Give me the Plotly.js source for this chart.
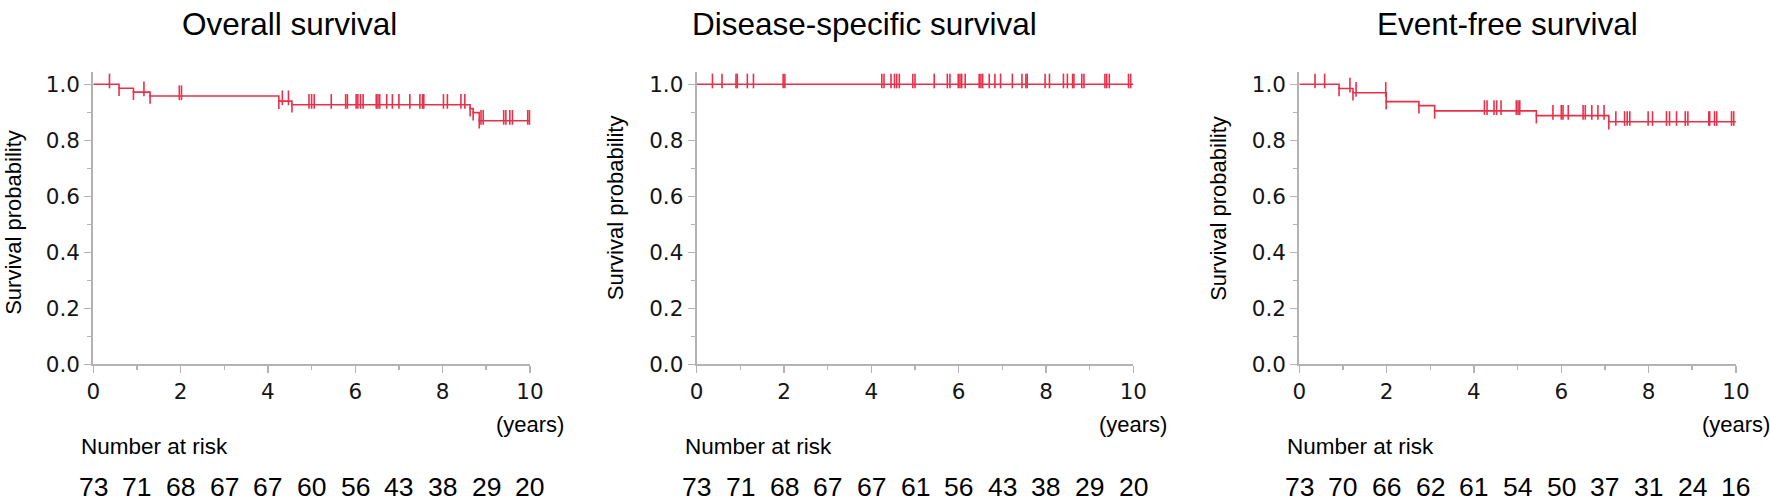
<!DOCTYPE html>
<html>
<head>
<meta charset="utf-8">
<script src="https://cdn.plot.ly/plotly-3.0.1.min.js"></script>
<style>html,body{margin:0;padding:0;background:#fff;}#chart{width:1770px;height:502px;}</style>
</head>
<body>
<div id="chart"></div>
<script>
// ---------- data ----------
const panelTitles = ["Overall survival", "Disease-specific survival", "Event-free survival"];
const riskYears = [0, 1, 2, 3, 4, 5, 6, 7, 8, 9, 10];

const osEventTimes = [0.59, 0.92, 1.30, 4.25, 4.55, 8.63, 8.70, 8.84];
const osEventSurv  = [0.986, 0.972, 0.958, 0.940, 0.927, 0.913, 0.899, 0.870];
const osCensorTimes = [0.37, 1.16, 1.97, 2.02, 4.33, 4.47, 4.94, 5.00, 5.06, 5.45, 5.78, 5.82,
  6.02, 6.06, 6.12, 6.18, 6.48, 6.52, 6.56, 6.72, 6.85, 7.00, 7.25, 7.48, 7.54, 7.57,
  8.02, 8.11, 8.42, 8.51, 8.88, 8.93, 9.40, 9.45, 9.54, 9.60, 9.95, 9.99];
const osAtRisk = [73, 71, 68, 67, 67, 60, 56, 43, 38, 29, 20];

const dssEventTimes = [];
const dssEventSurv  = [];
const dssCensorTimes = [0.36, 0.58, 0.90, 0.93, 1.16, 1.30, 1.98, 2.02, 4.24, 4.29, 4.45, 4.53,
  4.58, 4.64, 4.95, 5.00, 5.44, 5.74, 5.80, 5.99, 6.03, 6.07, 6.15, 6.47, 6.51, 6.55, 6.70,
  6.83, 6.96, 7.23, 7.45, 7.54, 7.57, 7.98, 8.08, 8.40, 8.49, 8.61, 8.64, 8.82, 8.87, 9.35,
  9.39, 9.45, 9.89, 9.94];
const dssAtRisk = [73, 71, 68, 67, 67, 61, 56, 43, 38, 29, 20];

const efsEventTimes = [0.91, 1.23, 1.99, 2.74, 3.10, 5.43, 7.09];
const efsEventSurv  = [0.985, 0.970, 0.938, 0.924, 0.905, 0.888, 0.866];
const efsCensorTimes = [0.36, 0.58, 1.16, 1.30, 1.98, 4.24, 4.30, 4.46, 4.52, 4.62, 4.97, 5.01,
  5.05, 5.81, 6.00, 6.04, 6.16, 6.50, 6.55, 6.70, 6.84, 6.98, 7.25, 7.45, 7.51, 7.57, 7.99,
  8.09, 8.41, 8.48, 8.64, 8.84, 8.90, 9.38, 9.40, 9.51, 9.56, 9.90, 9.95];
const efsAtRisk = [73, 70, 66, 62, 61, 54, 50, 37, 31, 24, 16];

const yTickVals = [0, 0.2, 0.4, 0.6, 0.8, 1.0];
const xTickVals = [0, 2, 4, 6, 8, 10];

// ---------- layout geometry (pixels) ----------
const W = 1770, H = 502;
const panelLeft = [93.3, 696.7, 1299.3];
const titleCenterPx = [289, 864, 1507];
const plotW = 436.6;
const yBotPx = 364.3, yTopPx = 71.7;
const yMax = 1.045, xMax = 10;
const pxPerUnit = (yBotPx - yTopPx) / yMax;
const red = "#e8304a";
const axisGray = "#b3b3b3";
const textCol = "#151515";

const panels = [
  {ev: osEventTimes, sv: osEventSurv, cs: osCensorTimes, risk: osAtRisk, ytitleY: 222},
  {ev: dssEventTimes, sv: dssEventSurv, cs: dssCensorTimes, risk: dssAtRisk, ytitleY: 208},
  {ev: efsEventTimes, sv: efsEventSurv, cs: efsCensorTimes, risk: efsAtRisk, ytitleY: 208}
];

function survAt(ev, sv, t) {
  let s = 1;
  for (let i = 0; i < ev.length; i++) if (ev[i] <= t) s = sv[i];
  return s;
}

const traces = [];
const annotations = [];
const layout = {
  width: W, height: H,
  margin: {l: 0, r: 0, t: 0, b: 0},
  paper_bgcolor: "#fff", plot_bgcolor: "#fff",
  showlegend: false,
  annotations: annotations
};

const censorLen = 10.5;   // px
const censorLift = 3.3;   // px above the curve
const dropExt = 6.5;      // px below new level

panels.forEach((p, i) => {
  const xa = i === 0 ? "x" : "x" + (i + 1);
  const ya = i === 0 ? "y" : "y" + (i + 1);
  const xKey = i === 0 ? "xaxis" : "xaxis" + (i + 1);
  const yKey = i === 0 ? "yaxis" : "yaxis" + (i + 1);
  const left = panelLeft[i];

  layout[xKey] = {
    domain: [left / W, (left + plotW) / W],
    range: [0, xMax], anchor: ya,
    showline: true, linecolor: axisGray, linewidth: 2,
    ticks: "outside", ticklen: 7, tickwidth: 1.5, tickcolor: axisGray,
    tickvals: xTickVals, ticktext: xTickVals.map(String),
    minor: {dtick: 1, ticklen: 4, tickwidth: 1.5, tickcolor: axisGray, ticks: "outside", showgrid: false},
    showgrid: false, zeroline: false, fixedrange: true,
    tickfont: {family: "DejaVu Sans", size: 21.5, color: textCol}
  };
  layout[yKey] = {
    domain: [(H - yBotPx) / H, (H - yTopPx) / H],
    range: [0, yMax], anchor: xa,
    showline: true, linecolor: axisGray, linewidth: 2,
    ticks: "outside", ticklen: 7, tickwidth: 1.5, tickcolor: axisGray,
    tickvals: yTickVals, ticktext: yTickVals.map(v => v.toFixed(1)),
    minor: {dtick: 0.1, ticklen: 4, tickwidth: 1.5, tickcolor: axisGray, ticks: "outside", showgrid: false},
    showgrid: false, zeroline: false, fixedrange: true,
    tickfont: {family: "DejaVu Sans", size: 21.5, color: textCol}
  };

  // step curve
  const lastS = p.sv.length ? p.sv[p.sv.length - 1] : 1;
  traces.push({
    type: "scatter", mode: "lines", xaxis: xa, yaxis: ya,
    x: [0].concat(p.ev, [xMax]), y: [1].concat(p.sv, [lastS]),
    line: {shape: "hv", color: red, width: 1.6}, hoverinfo: "skip", cliponaxis: false
  });
  // censor ticks
  traces.push({
    type: "scatter", mode: "markers", xaxis: xa, yaxis: ya,
    x: p.cs, y: p.cs.map(t => survAt(p.ev, p.sv, t) + censorLift / pxPerUnit),
    marker: {symbol: "line-ns", size: censorLen, color: red, line: {color: red, width: 1.6}},
    hoverinfo: "skip", cliponaxis: false
  });
  // drop extensions
  if (p.ev.length) {
    traces.push({
      type: "scatter", mode: "markers", xaxis: xa, yaxis: ya,
      x: p.ev, y: p.sv.map(s => s - dropExt / 2 / pxPerUnit),
      marker: {symbol: "line-ns", size: dropExt, color: red, line: {color: red, width: 1.6}},
      hoverinfo: "skip", cliponaxis: false
    });
  }

  // panel title
  annotations.push({
    text: panelTitles[i], xref: "paper", yref: "paper",
    x: titleCenterPx[i] / W, y: (H - 24) / H, xanchor: "center", yanchor: "middle",
    showarrow: false, font: {family: "Liberation Sans", size: 31.5, color: "#000"}
  });
  // y axis title
  annotations.push({
    text: "Survival probability", xref: "paper", yref: "paper", textangle: -90,
    x: (left - 80.5) / W, y: (H - p.ytitleY) / H, xanchor: "center", yanchor: "middle",
    showarrow: false, font: {family: "Liberation Sans", size: 22, color: "#000"}
  });
  // (years)
  annotations.push({
    text: "(years)", xref: xa, yref: "paper", x: xMax, y: (H - 424) / H,
    xanchor: "center", yanchor: "middle", showarrow: false,
    font: {family: "Liberation Sans", size: 22, color: "#000"}
  });
  // Number at risk label
  annotations.push({
    text: "Number at risk", xref: xa, yref: "paper", x: 0, xshift: -14, y: (H - 446) / H,
    xanchor: "left", yanchor: "middle", showarrow: false,
    font: {family: "Liberation Sans", size: 22.5, color: "#000"}
  });
  // numbers at risk
  riskYears.forEach((yr, k) => {
    annotations.push({
      text: String(p.risk[k]), xref: xa, yref: "paper", x: yr, y: (H - 487) / H,
      xanchor: "center", yanchor: "middle", showarrow: false,
      font: {family: "Liberation Sans", size: 26.5, color: "#000"}
    });
  });
});

Plotly.newPlot("chart", traces, layout, {displayModeBar: false, staticPlot: true});
</script>
</body>
</html>
